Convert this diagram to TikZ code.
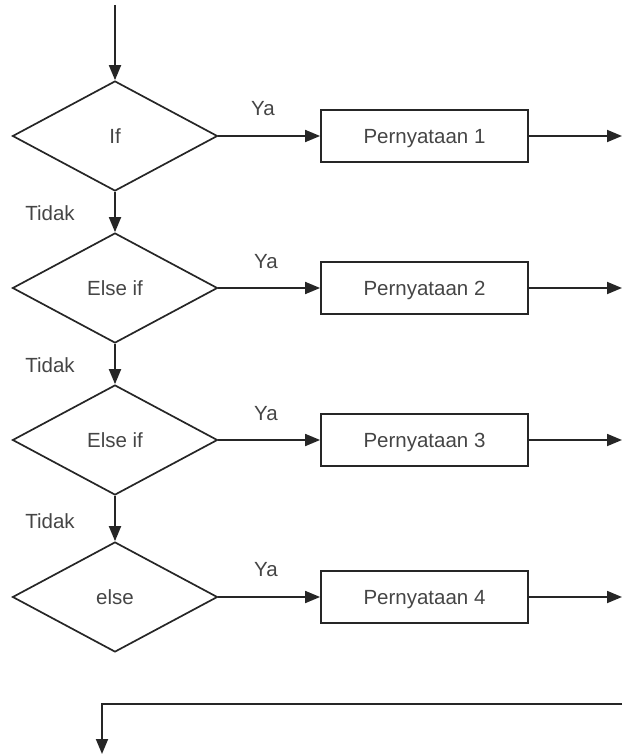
\documentclass[tikz,border=0pt]{standalone}
\usepackage{fontspec}
\setmainfont{Liberation Sans}
\usetikzlibrary{shapes.geometric,arrows.meta}
\definecolor{linegray}{HTML}{262626}
\definecolor{textgray}{HTML}{454545}
\begin{document}
\begin{tikzpicture}[x=1pt,y=-1pt,
  every node/.style={font=\fontsize{20.5}{24}\selectfont, text=textgray},
  decision/.style={diamond, draw=linegray, line width=1.7pt, inner sep=0pt,
    minimum width=205pt, minimum height=110pt},
  stmt/.style={rectangle, draw=linegray, line width=1.8pt,
    minimum width=207pt, minimum height=52pt, text depth=0pt},
  flow/.style={draw=linegray, line width=1.8pt, -{Triangle[length=15pt,width=12pt]}},
  lbl/.style={font=\fontsize{20.5}{24}\selectfont}
]
\useasboundingbox (0,0) rectangle (622,754);

% entry point
\coordinate (start) at (115,5);

% decisions and statements
\node[decision] (d1) at (115,136) {If};
\node[decision] (d2) at (115,288) {Else if};
\node[decision] (d3) at (115,440) {Else if};
\node[decision] (d4) at (115,597) {else};

\node[stmt] (p1) at (424.5,136) {Pernyataan 1};
\node[stmt] (p2) at (424.5,288) {Pernyataan 2};
\node[stmt] (p3) at (424.5,440) {Pernyataan 3};
\node[stmt] (p4) at (424.5,597) {Pernyataan 4};

% outgoing ends on the right
\coordinate (o1) at (622,136);
\coordinate (o2) at (622,288);
\coordinate (o3) at (622,440);
\coordinate (o4) at (622,597);

% merge line at the bottom
\coordinate (mr) at (622,704);
\coordinate (ml) at (102,704);
\coordinate (exit) at (102,754);

\draw[flow] (start) -- (d1.north);
\draw[flow] (d1.south) -- (d2.north);
\draw[flow] (d2.south) -- (d3.north);
\draw[flow] (d3.south) -- (d4.north);

\foreach \i in {1,2,3,4} {
  \draw[flow] (d\i.east) -- (p\i.west);
  \draw[flow] (p\i.east) -- (o\i);
}

\draw[flow] (mr) -- (ml) -- (exit);

% branch labels
\node[lbl] at (263,109) {Ya};
\node[lbl] at (266,262) {Ya};
\node[lbl] at (266,414) {Ya};
\node[lbl] at (266,570) {Ya};

\node[lbl] at (50,213) {Tidak};
\node[lbl] at (50,365) {Tidak};
\node[lbl] at (50,521) {Tidak};
\end{tikzpicture}
\end{document}
